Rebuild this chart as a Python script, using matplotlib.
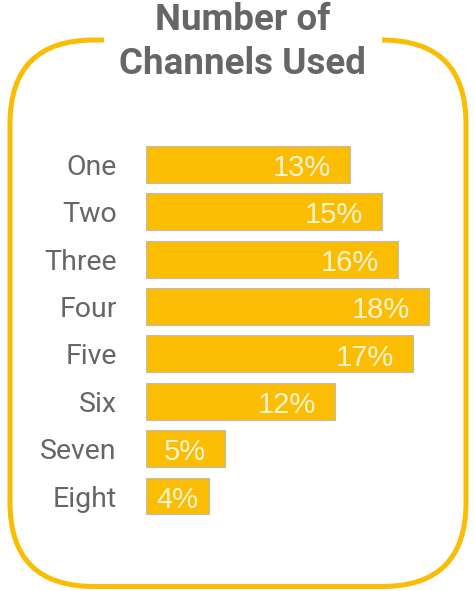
"""Number of channels used: horizontal bar chart inside a rounded frame."""
import matplotlib

matplotlib.use("Agg")
import matplotlib.pyplot as plt
from matplotlib.patches import FancyBboxPatch, Rectangle

YELLOW = "#FBBC04"
GREY = "#666666"

plt.rcParams.update({
    "font.family": ["Roboto", "DejaVu Sans"],
})

categories = ["One", "Two", "Three", "Four", "Five", "Six", "Seven", "Eight"]
values = [13, 15, 16, 18, 17, 12, 5, 4]
value_labels = ["13%", "15%", "16%", "18%", "17%", "12%", "5%", "4%"]
title_lines = ["Number of", "Channels Used"]

W, H = 475, 591
fig = plt.figure(figsize=(W / 100, H / 100), dpi=100)

# bar area
ax = fig.add_axes([146 / W, 1 - 519.7 / H, 314.4 / W, 378.9 / H])
pos = list(range(len(categories)))
ax.barh(pos, values, height=0.78, color=YELLOW, edgecolor="#BDBDBD", linewidth=0.8)
ax.set_xlim(0, 20)
ax.set_ylim(len(categories) - 0.5, -0.5)
ax.set_yticks(pos)
ax.set_yticklabels(categories, fontsize=20.5, color=GREY)
ax.tick_params(axis="y", length=0, pad=21)
ax.set_xticks([])
for s in ax.spines.values():
    s.set_visible(False)

for p, v, lab in zip(pos, values, value_labels):
    if v >= 10:
        x, ha = v - 1.2, "right"
    else:
        x, ha = v / 2, "center"
    ax.text(x, p + 0.245, lab, ha=ha, va="baseline", fontsize=21,
            family="Liberation Sans", color="#FFF4D0")

# rounded frame (inches)
frame = FancyBboxPatch((0.10, 0.045), 4.56, 5.465,
                       boxstyle="round,pad=0,rounding_size=0.84",
                       transform=fig.dpi_scale_trans, facecolor="none",
                       edgecolor=YELLOW, linewidth=3.6, zorder=1)
fig.add_artist(frame)
# gap in the top edge for the title
gap = Rectangle((1.04, 5.42), 2.78, 0.2, transform=fig.dpi_scale_trans,
                facecolor="white", edgecolor="none", zorder=2)
fig.add_artist(gap)

fig.text(242.5 / W, 1 - 19.5 / H, title_lines[0], ha="center", va="center",
         fontsize=26.5, fontweight="bold", color=GREY, zorder=3)
fig.text(242.5 / W, 1 - 63.5 / H, title_lines[1], ha="center", va="center",
         fontsize=26.5, fontweight="bold", color=GREY, zorder=3)

fig.savefig("out.png", dpi=100)
